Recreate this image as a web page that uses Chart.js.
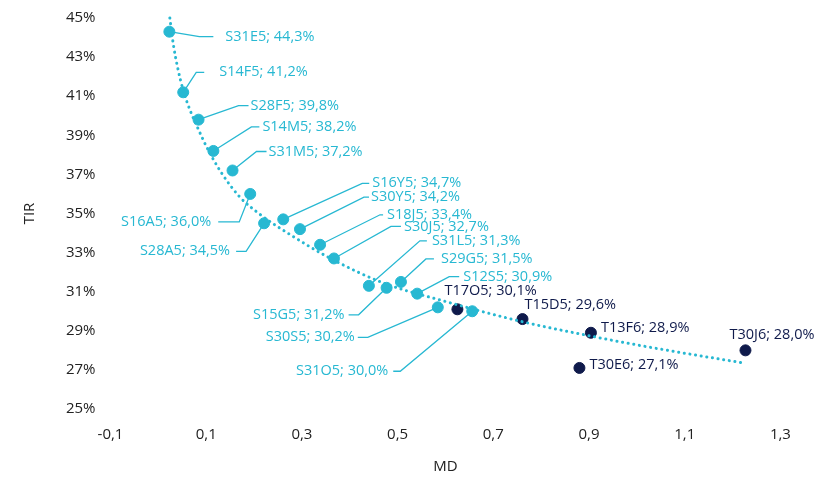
<!DOCTYPE html>
<html>
<head>
<meta charset="utf-8">
<script src="https://cdn.jsdelivr.net/npm/chart.js@4.4.0/dist/chart.umd.min.js"></script>
<style>
html, body { margin: 0; padding: 0; background: #fff; }
</style>
</head>
<body>
<canvas id="chart" width="819" height="478"></canvas>
<script>
// ---------- data ----------
const sNames = ['S31E5','S14F5','S28F5','S14M5','S31M5','S16A5','S28A5','S16Y5','S30Y5','S18J5','S30J5','S31L5','S15G5','S29G5','S12S5','S30S5','S31O5']
const sMD = [0.023,0.052,0.084,0.115,0.155,0.192,0.221,0.261,0.296,0.338,0.367,0.440,0.477,0.507,0.541,0.584,0.656]
const sTIR = [44.3,41.2,39.8,38.2,37.2,36.0,34.5,34.7,34.2,33.4,32.7,31.3,31.2,31.5,30.9,30.2,30.0]

const tNames = ['T17O5','T15D5','T13F6','T30E6','T30J6']
const tMD = [0.625,0.761,0.904,0.880,1.227]
const tTIR = [30.1,29.6,28.9,27.1,28.0]

// dotted trend line
const trendMD = [0.024,0.031,0.040,0.052,0.066,0.081,0.10,0.13,0.17,0.21,0.28,0.36,0.47,0.60,0.76,0.91,1.02,1.226]
const trendTIR = [45.0,43.7,42.5,41.3,40.3,39.45,38.45,37.15,35.85,35.0,33.85,32.7,31.45,30.5,29.47,28.7,28.19,27.34]

const xTicks = [-0.1,0.1,0.3,0.5,0.7,0.9,1.1,1.3]
const yTicks = [25,27,29,31,33,35,37,39,41,43,45]

// ---------- label placement (pixels from the marker) ----------
// [elbow dx, elbow dy, shoulder end dx, text dx]
const sLabelPos = [
    [30, 5, 44, 56],
    [13, -20, 21, 36],
    [40, -14, 50, 52],
    [38, -24, 46, 49],
    [24, -19, 34, 36],
    [-11, 28, -32, -39],
    [-18, 28, -28, -34],
    [79, -36, 86, 89],
    [64, -32, 69, 71],
    [60, -30, 63, 67],
    [57, -32, 67, 70],
    [51, -45, 58, 63],
    [-28, 27, -38, -42],
    [25, -23, 33, 40],
    [32, -17, 42, 46],
    [-70, 30, -80, -83],
    [-72, 60, -79, -84]
]
// [text dx, text dy], no leader line
const tLabelPos = [[-13, -18], [2, -14], [10, -5], [10, -3], [-16, -15]]

const cyan = '#27b8d2'
const navy = '#0f1a4b'
const ink = '#222222'

function labelText(name, v){
    return name + '; ' + v.toFixed(1).replace('.', ',') + '%'
}

function toPoints(xs, ys){
    return xs.map(function(x, i){ return {x: x, y: ys[i]} })
}

const labelPlugin = {
    id: 'pointLabels',
    beforeDatasetsDraw(chart){
        // leader lines go under the markers
        const ctx = chart.ctx
        ctx.save()
        ctx.strokeStyle = cyan
        ctx.lineWidth = 1.3
        chart.getDatasetMeta(1).data.forEach(function(pt, i){
            let p = sLabelPos[i]
            ctx.beginPath()
            ctx.moveTo(pt.x, pt.y)
            ctx.lineTo(pt.x + p[0], pt.y + p[1])
            ctx.lineTo(pt.x + p[2], pt.y + p[1])
            ctx.stroke()
        })
        ctx.restore()
    },
    afterDatasetsDraw(chart){
        const ctx = chart.ctx
        ctx.save()
        ctx.font = '14.5px "Open Sans"'
        ctx.textBaseline = 'middle'
        ctx.fillStyle = cyan
        chart.getDatasetMeta(1).data.forEach(function(pt, i){
            let p = sLabelPos[i]
            ctx.textAlign = p[3] < 0 ? 'right' : 'left'
            ctx.fillText(labelText(sNames[i], sTIR[i]), pt.x + p[3], pt.y + p[1])
        })
        ctx.fillStyle = navy
        ctx.textAlign = 'left'
        chart.getDatasetMeta(2).data.forEach(function(pt, i){
            let p = tLabelPos[i]
            ctx.fillText(labelText(tNames[i], tTIR[i]), pt.x + p[0], pt.y + p[1])
        })
        ctx.restore()
    }
}

Chart.defaults.font.family = "'Open Sans', sans-serif"
Chart.defaults.color = ink

const ctx = document.getElementById('chart').getContext('2d')
let myChart = new Chart(ctx, {
    type: 'scatter',
    data: {
        datasets: [
            {
                label: 'Tendencia',
                data: toPoints(trendMD, trendTIR),
                showLine: true,
                borderColor: cyan,
                borderWidth: 3,
                borderDash: [0.1, 5.6],
                borderCapStyle: 'round',
                cubicInterpolationMode: 'monotone',
                pointRadius: 0,
                clip: false
            },
            {
                label: 'S',
                data: toPoints(sMD, sTIR),
                backgroundColor: cyan,
                borderColor: cyan,
                pointRadius: 5.5,
                clip: false
            },
            {
                label: 'T',
                data: toPoints(tMD, tTIR),
                backgroundColor: navy,
                borderColor: navy,
                pointRadius: 5.5,
                clip: false
            }
        ]
    },
    options: {
        responsive: false,
        animation: false,
        layout: { padding: { top: 18, right: 38.6, left: 0, bottom: 0 } },
        plugins: {
            legend: { display: false },
            tooltip: { enabled: false }
        },
        scales: {
            x: {
                type: 'linear',
                min: -0.1,
                max: 1.3,
                afterBuildTicks: function(s){ s.ticks = xTicks.map(function(v){ return {value: v} }) },
                afterFit: function(s){ s.height = 69 },
                grid: { display: false, drawTicks: false },
                border: { display: false },
                ticks: {
                    padding: 17,
                    color: ink,
                    font: { size: 15 },
                    maxRotation: 0,
                    callback: function(v){ return v.toFixed(1).replace('.', ',') }
                },
                title: { display: true, text: 'MD', color: ink, font: { size: 15 }, padding: { bottom: 2 } }
            },
            y: {
                min: 25,
                max: 45,
                afterBuildTicks: function(s){ s.ticks = yTicks.map(function(v){ return {value: v} }) },
                afterFit: function(s){
                    s.width = 110.5
                    // tick padding would otherwise push the plot top down
                    s.paddingTop = 9
                    s.paddingBottom = 9
                },
                grid: { display: false, drawTicks: false },
                border: { display: false },
                ticks: {
                    padding: 15,
                    color: ink,
                    font: { size: 15 },
                    callback: function(v){ return v + '%' }
                },
                title: { display: true, text: 'TIR', color: ink, font: { size: 15 }, padding: { top: 21 } }
            }
        }
    },
    plugins: [labelPlugin]
})
</script>
</body>
</html>
